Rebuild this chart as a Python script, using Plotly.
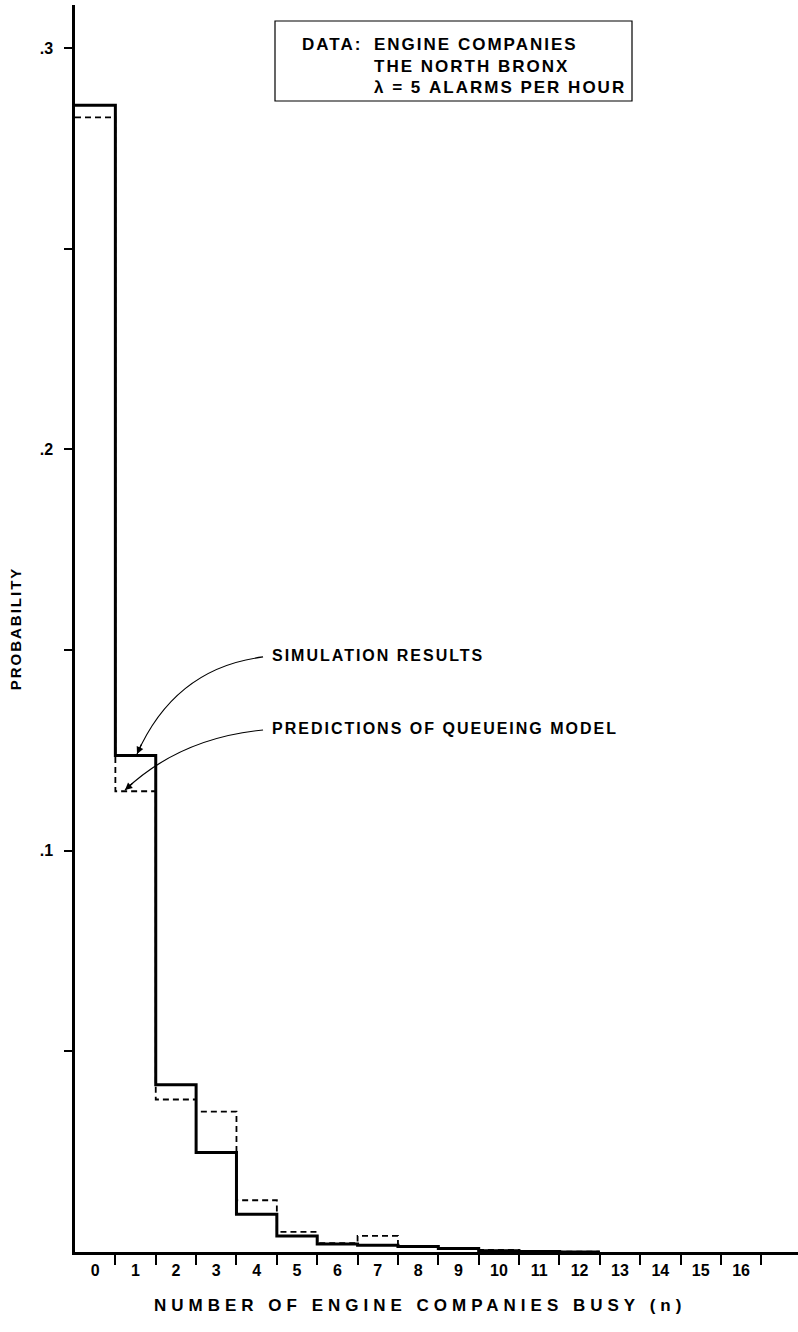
import plotly.graph_objects as go

# ---- data ----
n_busy = list(range(0, 13))
simulation = [0.2857, 0.1237, 0.0417, 0.0248, 0.0094, 0.0040, 0.0020,
              0.0017, 0.0014, 0.0009, 0.0003, 0.0001, 0.0000]
queueing = [0.2827, 0.1148, 0.0380, 0.0350, 0.0129, 0.0050, 0.0022,
            0.0040, 0.0015, 0.0010, 0.0005, 0.0002, 0.0001]
x_tick_labels = [str(k) for k in range(0, 17)]
y_tick_vals = [0.05, 0.10, 0.15, 0.20, 0.25, 0.30]
y_tick_text = ["", ".1", "", ".2", "", ".3"]

# ---- layout geometry (pixels) ----
W, H = 798, 1332
L, R, T, B = 75, 798, 5, 1252
FONT = "Liberation Sans"
FW = "bold"


def spaced(txt, sp):
    return '<span style="letter-spacing:{}px">{}</span>'.format(sp, txt)


def px_x(p):
    return (p - L) / (R - L)


def px_y(p):
    return (B - p) / (B - T)


def steps(vals):
    xs = [k - 0.5 for k in n_busy] + [n_busy[-1] + 0.5]
    ys = list(vals) + [vals[-1]]
    return xs, ys


fig = go.Figure()
qx, qy = steps(queueing)
sx, sy = steps(simulation)
fig.add_trace(go.Scatter(x=qx, y=qy, mode="lines", line_shape="hv",
                         line=dict(color="black", width=1.8, dash="6px,4px"),
                         xaxis="x2", yaxis="y", name="Predictions of queueing model"))
fig.add_trace(go.Scatter(x=sx, y=sy, mode="lines", line_shape="hv",
                         line=dict(color="black", width=3),
                         name="Simulation results"))

xr = [-0.5, 17.41]
fig.update_layout(
    width=W, height=H,
    margin=dict(l=L, r=W - R, t=T, b=H - B, autoexpand=False),
    paper_bgcolor="white", plot_bgcolor="white",
    showlegend=False,
    font=dict(family=FONT, color="black", size=15, weight=FW),
    xaxis=dict(range=xr, tickvals=[k + 0.5 for k in range(0, 17)], automargin=False,
               showticklabels=False, ticks="outside", ticklen=10, tickwidth=1.5,
               tickcolor="black", showline=True, linewidth=2.5, linecolor="black",
               showgrid=False, zeroline=False),
    xaxis2=dict(range=xr, overlaying="x", anchor="y", side="bottom", automargin=False,
                tickvals=list(range(0, 17)), ticktext=x_tick_labels,
                ticks="outside", ticklen=4, tickcolor="rgba(0,0,0,0)",
                showline=False, showgrid=False, zeroline=False,
                tickfont=dict(size=16, weight=FW)),
    yaxis=dict(range=[0, 0.3107], tickvals=y_tick_vals, ticktext=y_tick_text,
               automargin=False,
               ticks="outside", ticklen=8, tickwidth=1.5, tickcolor="black",
               ticklabelstandoff=8,
               showline=True, linewidth=2.5, linecolor="black",
               showgrid=False, zeroline=False, tickfont=dict(size=16, weight=FW),
               title=dict(text=spaced("PROBABILITY", 2), font=dict(size=15, weight=FW),
                          standoff=15)),
)

# x-axis title
fig.add_annotation(text=spaced("NUMBER OF ENGINE COMPANIES BUSY (n)", 5),
                   xref="paper", yref="paper",
                   x=px_x(420), y=px_y(1305), showarrow=False,
                   xanchor="center", yanchor="middle", font=dict(size=17, weight=FW))

# info box
fig.add_shape(type="rect", xref="paper", yref="paper",
              x0=px_x(275), x1=px_x(632), y0=px_y(101), y1=px_y(21),
              line=dict(color="black", width=1.2), fillcolor="white")
box_lines = [("DATA:", 300, 44), ("ENGINE COMPANIES", 372, 44),
             ("THE NORTH BRONX", 372, 66), ("λ = 5 ALARMS PER HOUR", 372, 88)]
for txt, xx, yy in box_lines:
    fig.add_annotation(text=spaced(txt, 2), xref="paper", yref="paper",
                       x=px_x(xx), y=px_y(yy),
                       showarrow=False, xanchor="left", yanchor="middle",
                       font=dict(size=17, weight=FW))

# labels with curved arrows
bw = (761.7 - 116) / 16.0


def dx(p):
    return -0.5 + (p - L) / bw


def dy(p):
    return (B - p) / ((B - 48) / 0.3)


fig.add_annotation(text=spaced("SIMULATION RESULTS", 2), x=dx(270), y=dy(656),
                   xref="x", yref="y", showarrow=False, xanchor="left", yanchor="middle",
                   font=dict(size=16, weight=FW))
fig.add_annotation(text=spaced("PREDICTIONS OF QUEUEING MODEL", 2), x=dx(270), y=dy(729),
                   xref="x", yref="y", showarrow=False, xanchor="left", yanchor="middle",
                   font=dict(size=16, weight=FW))

curves = [((263, 657), (175, 668), (137, 754), (5, -11)),
          ((263, 730), (180, 738), (125, 790), (9, -8))]
for (s, c, e, off) in curves:
    path = "M {},{} Q {},{} {},{}".format(dx(s[0]), dy(s[1]), dx(c[0]), dy(c[1]), dx(e[0]), dy(e[1]))
    fig.add_shape(type="path", xref="x", yref="y", path=path,
                  line=dict(color="black", width=1.2))
    fig.add_annotation(x=dx(e[0]), y=dy(e[1]), xref="x", yref="y", ax=off[0], ay=off[1],
                       showarrow=True, arrowhead=2, arrowsize=1.2, arrowwidth=1.2,
                       arrowcolor="black", text="", standoff=0)

fig.write_html("out.html", config={"displayModeBar": False},
               post_script="document.body.style.margin='0';")
